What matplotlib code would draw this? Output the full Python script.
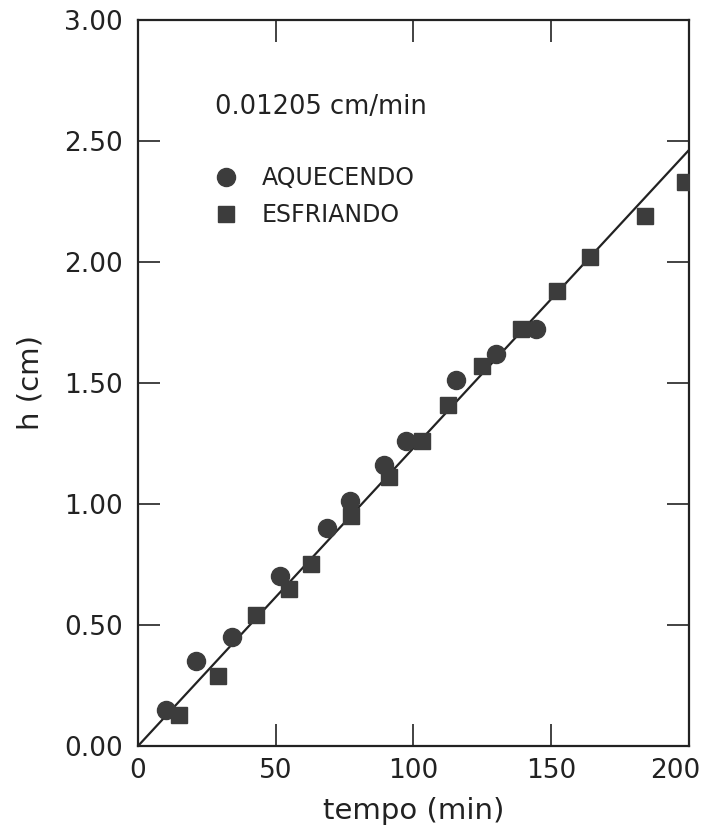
import matplotlib.pyplot as plt
import matplotlib.transforms as mtransforms

# dados
t_aquecendo = [10, 21, 34, 51.5, 68.5, 77, 89.5, 97.5, 115.5, 130, 144.5]
h_aquecendo = [0.15, 0.35, 0.45, 0.70, 0.90, 1.01, 1.16, 1.26, 1.51, 1.62, 1.72]

t_esfriando = [15, 29, 43, 54.7, 62.7, 77.5, 91.3, 103, 112.7, 125, 139, 152, 164, 184, 198.5]
h_esfriando = [0.13, 0.29, 0.54, 0.65, 0.75, 0.95, 1.11, 1.26, 1.41, 1.57, 1.72, 1.88, 2.02, 2.19, 2.33]

t_reta = [0, 200]
inclinacao = 0.0123
x_ticks = [0, 50, 100, 150, 200]
y_ticks = [0.0, 0.5, 1.0, 1.5, 2.0, 2.5, 3.0]

plt.rcParams['font.family'] = ['DejaVu Sans']
cor = '#3c3c3c'
preto = '#222222'

fig = plt.figure(figsize=(7.06, 8.35), dpi=100)
ax = fig.add_axes([0.1955, 0.1066, 0.78, 0.87])

ax.plot(t_reta, [inclinacao * t for t in t_reta], color=preto, lw=1.6, zorder=2)
ax.plot(t_aquecendo, h_aquecendo, 'o', color=cor, ms=13, zorder=3, label='AQUECENDO')
ax.plot(t_esfriando, h_esfriando, 's', color=cor, ms=12, zorder=3, label='ESFRIANDO')

ax.set_xlim(0, 200)
ax.set_ylim(0, 3.0)
ax.set_xticks(x_ticks)
ax.set_yticks(y_ticks)
ax.set_yticklabels(['%.2f' % v for v in y_ticks])
ax.tick_params(direction='in', length=16, width=1.2, labelsize=19, color=preto,
               labelcolor=preto, top=True, right=True)
ax.tick_params(axis='x', pad=9)
ax.tick_params(axis='y', pad=11)
for s in ax.spines.values():
    s.set_linewidth(1.6)
    s.set_color(preto)

# o rotulo 200 fica um pouco a esquerda da borda
ultimo = ax.get_xticklabels()[-1]
ultimo.set_horizontalalignment('right')
ultimo.set_transform(ultimo.get_transform() +
                     mtransforms.ScaledTranslation(0.12, 0, fig.dpi_scale_trans))

ax.set_xlabel('tempo (min)', fontsize=21, labelpad=9, color=preto)
ax.set_ylabel('h (cm)', fontsize=21, labelpad=14, color=preto)

ax.text(0.14, 0.87, '0.01205 cm/min', transform=ax.transAxes, fontsize=18.5, color=preto)
ax.legend(loc='upper left', bbox_to_anchor=(0.1, 0.827), frameon=False, fontsize=17,
          handletextpad=1.0, labelspacing=0.55, handlelength=1.0,
          labelcolor=preto)

plt.savefig('out.png', dpi=100)
